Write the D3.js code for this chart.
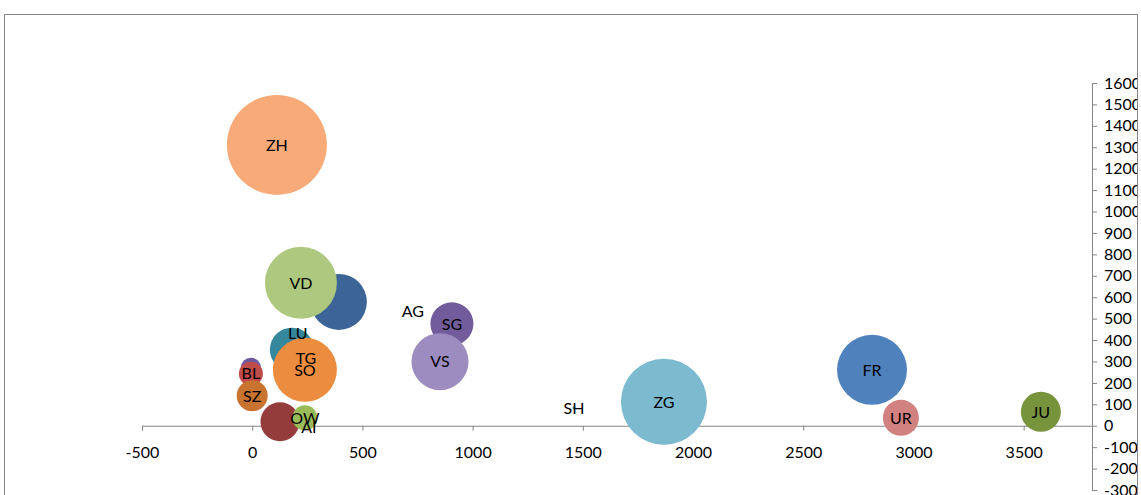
<!DOCTYPE html>
<html>
<head>
<meta charset="utf-8">
<script src="https://cdn.jsdelivr.net/npm/d3@7"></script>
<style>
  html, body { margin: 0; padding: 0; background: #fff; }
  svg { display: block; }
  text { font-family: Lato, "Open Sans", sans-serif; }
</style>
</head>
<body>
<svg id="chart" width="1141" height="495"></svg>
<script>
// bubble data, in drawing order (later ones on top)
const labels = ["ZH", "", "VD", "", "LU", "TG", "SO", "AG", "SG", "VS", "", "BL", "SZ", "", "OW", "AI", "SH", "ZG", "FR", "UR", "JU"];
const xValues = [112, 393, 221, 180, 207, 244, 239, 729, 906, 852, -6, -6, 0, 126, 239, 257, 1460, 1868, 2812, 2943, 3578];
const yValues = [1311, 578, 667, 355, 434, 313, 261, 536, 476, 299, 271, 243, 140, 19, 37, -5, 84, 112, 261, 37, 65];
const sizes = [100, 31.4, 51.8, 19.4, 0, 0, 41, 0, 18.5, 32.5, 4, 5.8, 9.6, 15.2, 6.3, 0, 0.09, 74, 49, 13, 16];
const colors = ["#f8ab79", "#3d6496", "#aec97f", "#35889c", "#4f81bd", "#eb8c3e", "#eb8c3e", "#4f81bd",
                "#735c9c", "#9d8cbf", "#6f5aa0", "#bf4c4a", "#c97330", "#943c3c", "#9bbb59", "#4f81bd",
                "#4aacc6", "#7cbad0", "#4f81bd", "#d18180", "#77933c"];

const xTicks = [-500, 0, 500, 1000, 1500, 2000, 2500, 3000, 3500];
const yTicks = d3.range(-300, 1601, 100);

const svg = d3.select("#chart");
const axisColor = "#868686";
const plain = d => String(d);

svg.append("defs").append("clipPath").attr("id", "frameClip")
   .append("rect").attr("x", 5).attr("y", 15).attr("width", 1132).attr("height", 480);

const x = d3.scaleLinear().domain([-500, 3810]).range([142, 1092]);
const y = d3.scaleLinear().domain([-300, 1600]).range([490, 83]);
const r = d3.scaleSqrt().domain([0, 100]).range([0, 50]);

const g = svg.append("g").attr("clip-path", "url(#frameClip)");

// horizontal axis
const xAxis = g.append("g")
  .attr("transform", "translate(0," + y(0) + ")")
  .call(d3.axisBottom(x).tickValues(xTicks).tickFormat(plain).tickSize(5).tickSizeOuter(0).tickPadding(16));

// vertical axis on the right
const yAxis = g.append("g")
  .attr("transform", "translate(" + x.range()[1] + ",0)")
  .call(d3.axisRight(y).tickValues(yTicks).tickFormat(plain).tickSize(5).tickSizeOuter(5).tickPadding(7));

[xAxis, yAxis].forEach(a => {
  a.selectAll("path, line").attr("stroke", axisColor);
  a.selectAll("text").attr("fill", "#000").style("font-size", "16px")
   .style("font-family", "Lato, 'Open Sans', sans-serif");
});

const points = labels.map((d, i) => ({label: d, x: xValues[i], y: yValues[i], size: sizes[i], color: colors[i]}));

g.append("g").selectAll("circle")
  .data(points.filter(d => d.size > 0))
  .enter()
  .append("circle")
  .attr("cx", d => x(d.x))
  .attr("cy", d => y(d.y))
  .attr("r", d => Math.max(r(d.size), 1.5))
  .attr("fill", d => d.color);

g.append("g").selectAll("text")
  .data(points.filter(d => d.label))
  .enter()
  .append("text")
  .attr("x", d => x(d.x))
  .attr("y", d => y(d.y))
  .attr("dy", "0.36em")
  .attr("text-anchor", "middle")
  .style("font-size", "16px")
  .attr("fill", "#000")
  .text(d => d.label);

// chart frame
svg.append("rect")
  .attr("x", 4.5).attr("y", 14.5).attr("width", 1133).attr("height", 500)
  .attr("fill", "none").attr("stroke", axisColor).attr("stroke-width", 1);
</script>
</body>
</html>
